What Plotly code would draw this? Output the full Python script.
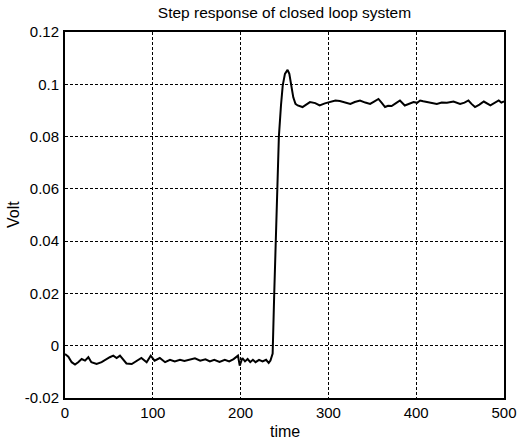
import plotly.graph_objects as go

time = [0, 3.8, 7.6, 11.4, 15, 19, 22.8, 26.6, 30, 36, 41.7, 47, 51, 55, 58.8, 62.6, 66, 70, 76,
        81.7, 87, 93, 97.6, 102, 108, 114, 119.6, 125, 131, 136, 142, 148, 154, 160, 165, 170,
        176, 182, 187, 192, 197, 199, 202, 205, 208, 211, 214, 217, 221, 225, 229, 232, 234,
        235.5, 236.5, 238.3, 240.2, 242, 243.6, 246, 248, 250.5, 253.5, 255.5, 257.5, 260,
        262.5, 265, 270.5, 274, 279, 285, 290, 296, 302, 308, 313, 319, 325, 330, 336, 342,
        347.5, 352, 357, 361, 364.5, 368, 372, 377, 381.5, 387, 392, 397, 401, 404.5, 408,
        412, 418, 423.5, 429, 435, 442.5, 450, 455, 459.5, 463, 467, 472, 477, 484.5, 489,
        494, 497, 500]

volt = [-0.0032, -0.0042, -0.0063, -0.0072, -0.0063, -0.0051, -0.0057, -0.0044, -0.0063,
        -0.0070, -0.0063, -0.0051, -0.0044, -0.0038, -0.0047, -0.0038, -0.0051, -0.0068,
        -0.0070, -0.0057, -0.0047, -0.0063, -0.0038, -0.0057, -0.0047, -0.0063, -0.0054,
        -0.0060, -0.0054, -0.0058, -0.0054, -0.0048, -0.0057, -0.0052, -0.0060, -0.0054,
        -0.0062, -0.0054, -0.0060, -0.0051, -0.0038, -0.0076, -0.0047, -0.0060, -0.0051,
        -0.0063, -0.0054, -0.0063, -0.0054, -0.0060, -0.0054, -0.0066, -0.0057, -0.0044,
        -0.0030, 0.020, 0.040, 0.060, 0.080, 0.092, 0.0996, 0.104, 0.1055, 0.104, 0.0996,
        0.095, 0.0925, 0.0919, 0.0913, 0.0922, 0.0932, 0.0928, 0.0919, 0.0927, 0.0934,
        0.0938, 0.0936, 0.0930, 0.0925, 0.0932, 0.0938, 0.0930, 0.0925, 0.0934, 0.0944,
        0.0928, 0.0913, 0.0918, 0.0917, 0.0928, 0.0938, 0.0919, 0.0926, 0.0932, 0.0929,
        0.0938, 0.0935, 0.0932, 0.0928, 0.0925, 0.0930, 0.0929, 0.0934, 0.0925, 0.0930,
        0.0938, 0.0925, 0.0913, 0.0922, 0.0934, 0.0919, 0.0928, 0.0938, 0.0930, 0.0935]

x_ticks = [0, 100, 200, 300, 400, 500]
y_ticks = [-0.02, 0, 0.02, 0.04, 0.06, 0.08, 0.1, 0.12]
y_tick_labels = ["-0.02", "0", "0.02", "0.04", "0.06", "0.08", "0.1", "0.12"]

FONT = "Liberation Sans, Arial, sans-serif"
W, H = 518, 443
ML, MR, MT, MB = 65, 14, 32, 45
PW, PH = W - ML - MR, H - MT - MB

fig = go.Figure()
fig.add_trace(go.Scatter(x=time, y=volt, mode="lines", hoverinfo="skip",
                         line=dict(color="black", width=2), showlegend=False))

axis_common = dict(
    showline=True, linecolor="black", linewidth=2, mirror=True,
    showgrid=True, gridcolor="black", gridwidth=1.2, griddash="3px,2px",
    zeroline=False, ticks="", automargin=False,
    tickfont=dict(family=FONT, size=15, color="black"),
)

fig.update_xaxes(range=[0, 500], tickvals=x_ticks, **axis_common)
fig.update_yaxes(range=[-0.02, 0.12], tickvals=y_ticks, ticktext=y_tick_labels,
                 ticklabelstandoff=1, **axis_common)

fig.add_annotation(text="time", xref="paper", yref="paper",
                   x=0.5, y=(H - MB - 431) / PH, xanchor="center", yanchor="middle",
                   showarrow=False, font=dict(family=FONT, size=16, color="black"))
fig.add_annotation(text="Volt", xref="paper", yref="paper", textangle=-90,
                   x=(13 - ML) / PW, y=0.5, xanchor="center", yanchor="middle",
                   showarrow=False, font=dict(family=FONT, size=16, color="black"))

fig.update_layout(
    width=W, height=H,
    margin=dict(l=ML, r=MR, t=MT, b=MB, autoexpand=False),
    paper_bgcolor="white", plot_bgcolor="white",
    title=dict(text="Step response of closed loop system",
               font=dict(family=FONT, size=15.5, color="black"),
               x=(ML + W - MR) / 2 / W, xanchor="center",
               y=1 - 13 / H, yanchor="middle", automargin=False),
)

fig.write_html("out.html", config={"displayModeBar": False},
               post_script="document.body.style.margin='0';document.body.style.overflow='hidden';")
